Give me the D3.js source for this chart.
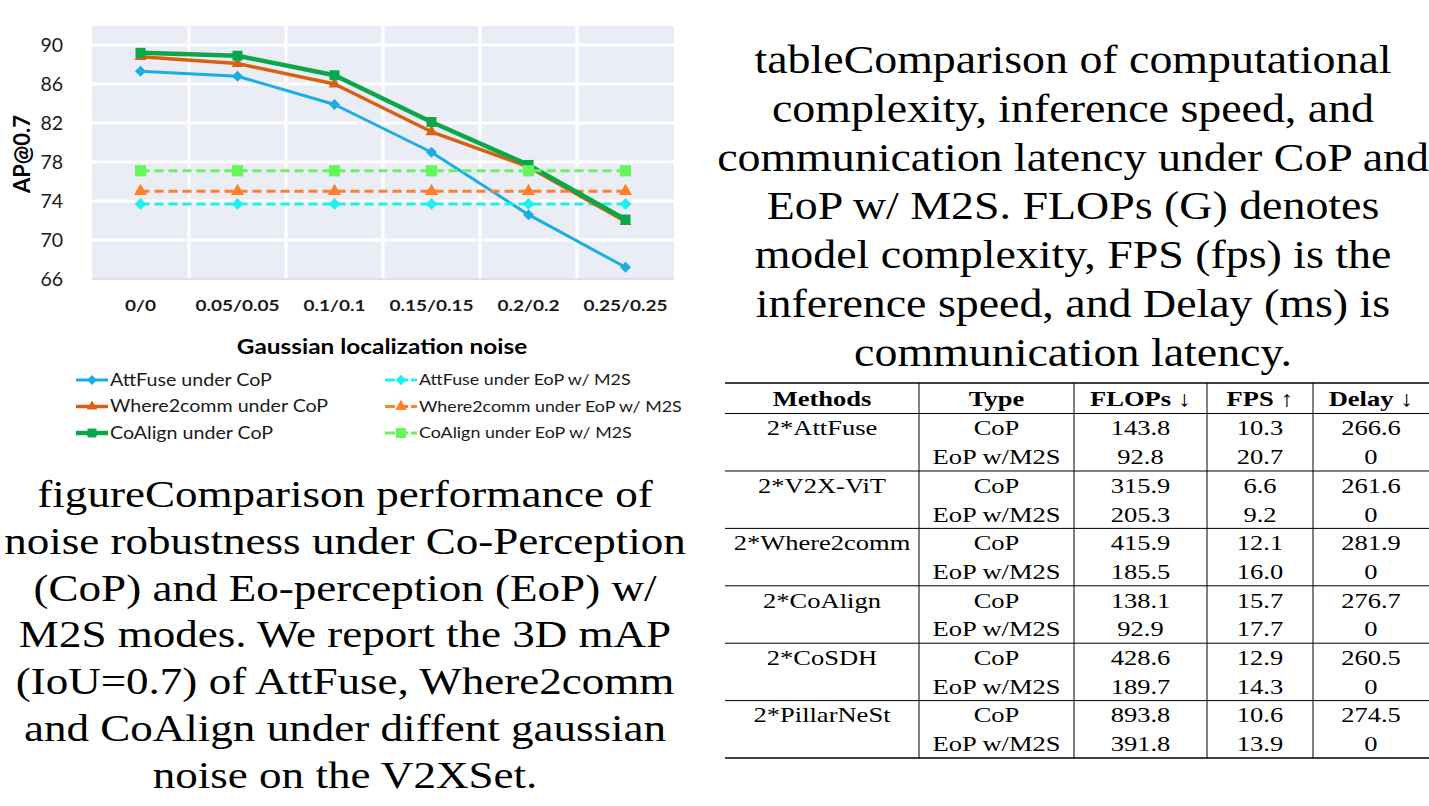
<!DOCTYPE html>
<html>
<head>
<meta charset="utf-8">
<script src="https://cdn.jsdelivr.net/npm/d3@7/dist/d3.min.js"></script>
<style>
  html, body { margin: 0; padding: 0; background: #fff; }
  svg { display: block; }
  .serif { font-family: "Liberation Serif", "DejaVu Serif", "Noto Serif", "Times New Roman", serif; }
</style>
</head>
<body>
<svg id="page"></svg>
<script>
// ---- chart data ----
const noiseLevels = ["0/0", "0.05/0.05", "0.1/0.1", "0.15/0.15", "0.2/0.2", "0.25/0.25"];
const attFuseCoP    = [87.3, 86.8, 83.9, 79.0, 72.6, 67.2];
const where2commCoP = [88.8, 88.1, 86.0, 81.1, 77.5, 71.9];
const coAlignCoP    = [89.2, 88.9, 86.9, 82.1, 77.7, 72.1];
const attFuseEoP    = [73.7, 73.7, 73.7, 73.7, 73.7, 73.7];
const where2commEoP = [75.0, 75.0, 75.0, 75.0, 75.0, 75.0];
const coAlignEoP    = [77.1, 77.1, 77.1, 77.1, 77.1, 77.1];
const yTicks = [66, 70, 74, 78, 82, 86, 90];

// ---- table data ----
const tableHeader = ["Methods", "Type", "FLOPs \u2193", "FPS \u2191", "Delay \u2193"];
const methods = ["2*AttFuse", "2*V2X-ViT", "2*Where2comm", "2*CoAlign", "2*CoSDH", "2*PillarNeSt"];
const types = ["CoP", "EoP w/M2S"];
const flops = [["143.8", "92.8"], ["315.9", "205.3"], ["415.9", "185.5"], ["138.1", "92.9"], ["428.6", "189.7"], ["893.8", "391.8"]];
const fps   = [["10.3", "20.7"], ["6.6", "9.2"], ["12.1", "16.0"], ["15.7", "17.7"], ["12.9", "14.3"], ["10.6", "13.9"]];
const delay = [["266.6", "0"], ["261.6", "0"], ["281.9", "0"], ["276.7", "0"], ["260.5", "0"], ["274.5", "0"]];

// ---- captions ----
const figCaption = [
  "figureComparison performance of",
  "noise robustness under Co-Perception",
  "(CoP) and Eo-perception (EoP) w/",
  "M2S modes. We report the 3D mAP",
  "(IoU=0.7) of AttFuse, Where2comm",
  "and CoAlign under diffent gaussian",
  "noise on the V2XSet."
];
const tabCaption = [
  "tableComparison of computational",
  "complexity, inference speed, and",
  "communication latency under CoP and",
  "EoP w/ M2S. FLOPs (G) denotes",
  "model complexity, FPS (fps) is the",
  "inference speed, and Delay (ms) is",
  "communication latency."
];

const W = 1429, H = 806;
const svg = d3.select("#page").attr("width", W).attr("height", H);
svg.append("rect").attr("width", W).attr("height", H).attr("fill", "#fff");

const chartFont = "Lato, 'Open Sans', sans-serif";
const textStretch = 1.19;   // the chart image in the source is stretched horizontally

// series definitions (draw order)
const series = [
  { name: "AttFuse under CoP", values: attFuseCoP, color: "#1BADE4", width: 3, dash: null, shape: "diamond", size: 60 },
  { name: "AttFuse under EoP w/ M2S", values: attFuseEoP, color: "#1EF0F0", width: 3, dash: "9,5", shape: "diamond", size: 70 },
  { name: "Where2comm under CoP", values: where2commCoP, color: "#D9600F", width: 3.5, dash: null, shape: "triangle", size: 60 },
  { name: "Where2comm under EoP w/ M2S", values: where2commEoP, color: "#FF8025", width: 3, dash: "9,5", shape: "triangle", size: 75 },
  { name: "CoAlign under CoP", values: coAlignCoP, color: "#0BA84A", width: 4.5, dash: null, shape: "square", size: 100 },
  { name: "CoAlign under EoP w/ M2S", values: coAlignEoP, color: "#66F55C", width: 3, dash: "9,5", shape: "square", size: 125 }
];

function symbolPath(shape, size) {
  if (shape === "triangle") return d3.symbol(d3.symbolTriangle, size)();
  return d3.symbol(d3.symbolSquare, size)();
}
function symbolRotate(shape) { return shape === "diamond" ? " rotate(45)" : ""; }

// ---- chart ----
const plot = { left: 92, right: 674, top: 26, bottom: 279 };
const x = d3.scaleBand().domain(noiseLevels).range([plot.left, plot.right]).padding(0);
const y = d3.scaleLinear().domain([66, 91.95]).range([plot.bottom, plot.top]);

const chart = svg.append("g").attr("class", "chart");
chart.append("rect")
  .attr("x", plot.left).attr("y", plot.top)
  .attr("width", plot.right - plot.left).attr("height", plot.bottom - plot.top)
  .attr("fill", "#EBEDF6");

// horizontal gridlines
chart.append("g").selectAll("line").data(yTicks.slice(1)).enter().append("line")
  .attr("x1", plot.left).attr("x2", plot.right)
  .attr("y1", d => y(d)).attr("y2", d => y(d))
  .attr("stroke", "#fff").attr("stroke-width", 3);
// vertical gridlines at category boundaries
chart.append("g").selectAll("line").data(noiseLevels.slice(1)).enter().append("line")
  .attr("x1", d => x(d)).attr("x2", d => x(d))
  .attr("y1", plot.top).attr("y2", plot.bottom)
  .attr("stroke", "#fff").attr("stroke-width", 3);
// bottom axis line
chart.append("line")
  .attr("x1", plot.left).attr("x2", plot.right)
  .attr("y1", plot.bottom).attr("y2", plot.bottom)
  .attr("stroke", "#D9D9D9").attr("stroke-width", 1.5);

// y tick labels
chart.append("g").selectAll("text").data(yTicks).enter().append("text")
  .attr("x", 63).attr("y", d => y(d))
  .attr("dy", "0.36em")
  .attr("text-anchor", "end")
  .attr("font-family", chartFont).attr("font-size", 19.5)
  .attr("fill", "#1a1a1a")
  .text(d => d);

// x tick labels
chart.append("g").selectAll("text").data(noiseLevels).enter().append("text")
  .attr("transform", d => `translate(${x(d) + x.bandwidth() / 2},305) scale(${textStretch},1)`)
  .attr("dy", "0.36em")
  .attr("text-anchor", "middle")
  .attr("font-family", chartFont).attr("font-size", 16).attr("font-weight", "bold")
  .attr("fill", "#1a1a1a")
  .text(d => d);

// axis titles
chart.append("text")
  .attr("transform", "translate(22,154) rotate(-90)")
  .attr("dy", "0.36em")
  .attr("text-anchor", "middle")
  .attr("font-family", chartFont).attr("font-size", 22).attr("font-weight", "bold")
  .attr("fill", "#000")
  .text("AP@0.7");
chart.append("text")
  .attr("transform", `translate(382,347) scale(1.22,1)`)
  .attr("dy", "0.36em")
  .attr("text-anchor", "middle")
  .attr("font-family", chartFont).attr("font-size", 20).attr("font-weight", "bold")
  .attr("fill", "#000")
  .text("Gaussian localization noise");

// lines + markers
const line = d3.line()
  .x((d, i) => x(noiseLevels[i]) + x.bandwidth() / 2)
  .y(d => y(d));

series.forEach(s => {
  const g = chart.append("g").attr("class", "series");
  g.append("path")
    .attr("d", line(s.values))
    .attr("fill", "none")
    .attr("stroke", s.color)
    .attr("stroke-width", s.width)
    .attr("stroke-dasharray", s.dash)
    .attr("stroke-linejoin", "round");
  g.selectAll("path.marker").data(s.values).enter().append("path")
    .attr("class", "marker")
    .attr("d", symbolPath(s.shape, s.size))
    .attr("transform", (d, i) => `translate(${x(noiseLevels[i]) + x.bandwidth() / 2},${y(d)})${symbolRotate(s.shape)}`)
    .attr("fill", s.color);
});

// legend (two columns, row-major)
const legend = chart.append("g").attr("class", "legend");
series.forEach((s, i) => {
  const col = i % 2, row = Math.floor(i / 2);
  const lx = col === 0 ? 76 : 385;
  const ly = 380 + row * 26.5;
  const g = legend.append("g").attr("transform", `translate(${lx},${ly})`);
  g.append("line").attr("x1", 0).attr("x2", 32).attr("y1", 0).attr("y2", 0)
    .attr("stroke", s.color).attr("stroke-width", s.width)
    .attr("stroke-dasharray", s.dash ? "10,3" : null);
  g.append("path").attr("d", symbolPath(s.shape, s.size * 0.8))
    .attr("transform", `translate(16,0)${symbolRotate(s.shape)}`)
    .attr("fill", s.color);
  g.append("text")
    .attr("transform", `translate(34,0) scale(${textStretch},1)`)
    .attr("dy", "0.36em")
    .attr("font-family", chartFont).attr("font-size", col === 0 ? 16.5 : 15)
    .attr("fill", "#1a1a1a")
    .text(s.name);
});

// ---- serif text helpers ----
function measure(text, size, weight) {
  const t = svg.append("text").attr("class", "serif").attr("font-size", size)
    .attr("font-weight", weight || "normal").text(text);
  const w = t.node().getComputedTextLength();
  t.remove();
  return w;
}
function serifText(parent, text, cx, baseline, size, sx, weight) {
  parent.append("text")
    .attr("class", "serif")
    .attr("transform", `translate(${cx},${baseline}) scale(${sx},1)`)
    .attr("text-anchor", "middle")
    .attr("font-size", size)
    .attr("font-weight", weight || "normal")
    .attr("fill", "#000")
    .text(text);
}

// figure caption (left)
const figSize = 38.5;
const figSx = 682 / measure(figCaption[1], figSize);
const figG = svg.append("g").attr("class", "fig-caption");
figCaption.forEach((t, i) => serifText(figG, t, 345, 507 + i * 46.8, figSize, figSx));

// table caption (right)
const tabSize = 40;
const tabSx = 712 / measure(tabCaption[2], tabSize);
const tabG = svg.append("g").attr("class", "tab-caption");
tabCaption.forEach((t, i) => serifText(tabG, t, 1073, 73 + i * 48.8, tabSize, tabSx));

// ---- table ----
const colEdges = [725, 919, 1074, 1207, 1313, 1429];
const colCenter = i => (colEdges[i] + colEdges[i + 1]) / 2;
const cellSize = 22;
const cellSx = 128 / measure("EoP w/M2S", cellSize);
const rowH = 28.7;
const topRule = 383, headRule = 413.5;
const rowY = r => headRule + 14.4 + r * rowH;   // row centre
const bottomRule = rowY(methods.length * 2 - 1) + 14.4;

const table = svg.append("g").attr("class", "table");
table.append("line").attr("x1", colEdges[0]).attr("x2", W).attr("y1", topRule).attr("y2", topRule)
  .attr("stroke", "#000").attr("stroke-width", 1.6);
table.append("line").attr("x1", colEdges[0]).attr("x2", W).attr("y1", headRule).attr("y2", headRule)
  .attr("stroke", "#000").attr("stroke-width", 1);
methods.forEach((m, g) => {
  const yy = rowY(g * 2 + 1) + 14.4;
  table.append("line").attr("x1", colEdges[0]).attr("x2", W).attr("y1", yy).attr("y2", yy)
    .attr("stroke", "#000").attr("stroke-width", g === methods.length - 1 ? 1.6 : 1);
});
colEdges.slice(1, -1).forEach(cx => {
  table.append("line").attr("x1", cx).attr("x2", cx).attr("y1", topRule).attr("y2", bottomRule)
    .attr("stroke", "#000").attr("stroke-width", 1);
});

tableHeader.forEach((h, i) => serifText(table, h, colCenter(i), 398 + 7.5, cellSize, cellSx, "bold"));
methods.forEach((m, g) => {
  types.forEach((t, k) => {
    const r = g * 2 + k;
    const base = rowY(r) + 7.5;
    if (k === 0) serifText(table, m, colCenter(0), base, cellSize, cellSx);
    serifText(table, t, colCenter(1), base, cellSize, cellSx);
    serifText(table, flops[g][k], colCenter(2), base, cellSize, cellSx);
    serifText(table, fps[g][k], colCenter(3), base, cellSize, cellSx);
    serifText(table, delay[g][k], colCenter(4), base, cellSize, cellSx);
  });
});
</script>
</body>
</html>
